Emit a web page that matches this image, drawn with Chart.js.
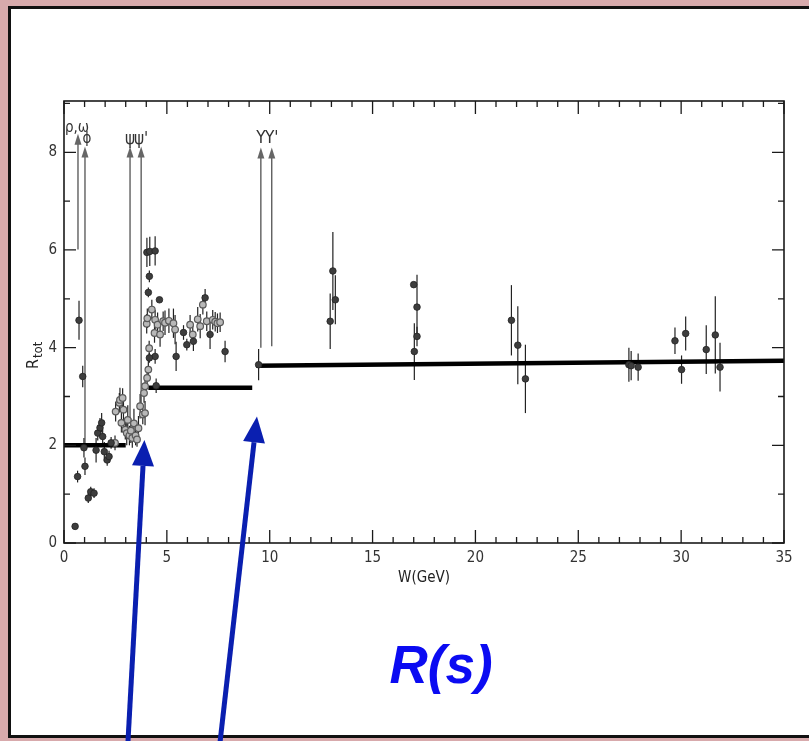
<!DOCTYPE html>
<html>
<head>
<meta charset="utf-8">
<script src="https://cdn.jsdelivr.net/npm/chart.js@4.4.1/dist/chart.umd.min.js"></script>
<style>
html,body{margin:0;padding:0;width:809px;height:741px;overflow:hidden;background:#d8aaac;}
#marco{position:absolute;left:8px;top:6px;width:840px;height:726px;border:3px solid #111;background:#fff;}
#grafico{position:absolute;left:0;top:0;}
</style>
</head>
<body>
<div id="marco"></div>
<canvas id="grafico" width="809" height="741"></canvas>
<script>

// ================================
// DATOS (W en GeV, R_tot, error)
// ================================

// puntos oscuros
const oscW = [0.54,0.66,0.73,0.91,0.97,1.02,1.18,1.30,1.46,1.56,1.64,1.75,1.83,1.88,1.96,2.10,2.19,2.29,
    4.03,4.17,4.43,4.15,4.10,4.64,4.43,4.15,5.45,4.48,5.81,5.97,6.29,6.86,7.10,7.83,
    9.46,12.94,13.07,13.19,17.00,17.16,17.16,17.03,21.75,22.06,22.43,
    27.46,27.57,27.91,29.70,30.02,30.22,31.22,31.66,31.89];
const oscR = [0.34,1.36,4.56,3.41,1.95,1.57,0.92,1.05,1.02,1.90,2.25,2.36,2.46,2.18,1.87,1.70,1.77,2.05,
    5.95,5.97,5.98,5.46,5.13,4.98,3.82,3.79,3.82,3.22,4.31,4.06,4.13,5.02,4.27,3.92,
    3.65,4.54,5.57,4.98,5.29,4.83,4.23,3.92,4.56,4.05,3.36,
    3.65,3.63,3.60,4.14,3.55,4.29,3.96,4.26,3.60];
const oscE = [0.04,0.12,0.40,0.22,0.20,0.18,0.10,0.10,0.10,0.25,0.15,0.20,0.20,0.15,0.20,0.12,0.12,0.12,
    0.30,0.30,0.30,0.12,0.10,0.05,0.15,0.10,0.30,0.15,0.15,0.12,0.20,0.18,0.30,0.22,
    0.32,0.57,0.80,0.50,0.05,0.66,0.20,0.58,0.72,0.80,0.70,
    0.35,0.30,0.28,0.27,0.29,0.35,0.50,0.79,0.50];

// puntos claros (zona densa)
const clarW = [2.48,2.51,2.69,2.72,2.79,2.85,2.89,2.98,3.05,3.10,3.18,3.25,3.32,3.40,3.48,3.55,3.62,3.70,
    3.83,3.89,3.94,3.94,4.04,4.10,4.14,4.02,4.05,4.27,4.43,4.55,4.40,4.67,4.82,4.91,5.10,5.32,5.40,
    6.13,6.26,6.50,6.62,6.75,6.94,7.23,7.35,7.46,7.59];
const clarR = [2.05,2.69,2.87,2.93,2.46,2.97,2.73,2.32,2.25,2.52,2.20,2.30,2.15,2.45,2.20,2.12,2.35,2.80,
    2.63,3.07,2.66,3.21,3.38,3.55,3.99,4.49,4.60,4.78,4.57,4.47,4.30,4.27,4.54,4.51,4.55,4.50,4.37,
    4.47,4.27,4.58,4.44,4.88,4.54,4.57,4.53,4.50,4.52];
const clarE = [0.15,0.20,0.20,0.25,0.20,0.20,0.30,0.20,0.25,0.30,0.20,0.25,0.20,0.30,0.20,0.15,0.25,0.25,
    0.20,0.20,0.25,0.20,0.20,0.20,0.15,0.20,0.20,0.20,0.20,0.25,0.20,0.25,0.20,0.25,0.25,0.30,0.30,
    0.20,0.20,0.25,0.25,0.20,0.20,0.20,0.20,0.20,0.20];

// niveles teóricos (tramos)
const tramoIni = [0.0, 4.1, 9.35];
const tramoFin = [3.0, 9.15, 35.0];
const tramoRIni = [2.0, 3.18, 3.63];
const tramoRFin = [2.0, 3.18, 3.73];

// resonancias
const resNombre = ["ρ,ω", "ϕ", "ψ", "ψ'", "Υ", "Υ'"];
const resW = [0.68, 1.02, 3.21, 3.75, 9.57, 10.1];
const resBajo = [6.01, 2.05, 2.55, 2.8, 4.0, 4.03];
const resAlto = [8.38, 8.12, 8.12, 8.12, 8.1, 8.1];
const resEtiquetaR = [8.42, 8.2, 8.17, 8.17, 8.2, 8.2];

// flechas azules (en unidades de datos)
const azulDesdeW = [3.11, 7.59];
const azulDesdeR = [-4.06, -4.06];
const azulHastaW = [3.91, 9.38];
const azulHastaR = [2.11, 2.59];

const fuente = "'Liberation Sans Narrow','DejaVu Sans Condensed','Liberation Sans',sans-serif";

// ================================
// PLUGIN: marco, marcas, barras de error, anotaciones
// ================================

const decoracion = {
    id: "decoracion",

    beforeDatasetsDraw(chart){
        const ctx = chart.ctx;
        const x = chart.scales.x, y = chart.scales.y;
        ctx.save();
        ctx.strokeStyle = "#222";
        ctx.lineWidth = 1.2;
        function barras(ws, rs, es){
            for(let i=0;i<ws.length;i++){
                const px = x.getPixelForValue(ws[i]);
                ctx.beginPath();
                ctx.moveTo(px, y.getPixelForValue(rs[i]-es[i]));
                ctx.lineTo(px, y.getPixelForValue(rs[i]+es[i]));
                ctx.stroke();
            }
        }
        barras(oscW, oscR, oscE);
        barras(clarW, clarR, clarE);
        ctx.restore();
    },

    afterDraw(chart){
        const ctx = chart.ctx;
        const x = chart.scales.x, y = chart.scales.y;
        const a = chart.chartArea;

        ctx.save();

        // marco
        ctx.strokeStyle = "#1a1a1a";
        ctx.lineWidth = 1.6;
        ctx.strokeRect(a.left, a.top, a.right-a.left, a.bottom-a.top);

        // marcas hacia dentro
        ctx.lineWidth = 1.3;
        ctx.beginPath();
        for(let v=0; v<=35; v++){
            const px = x.getPixelForValue(v);
            const l = (v%5===0) ? 13 : 6;
            ctx.moveTo(px, a.bottom); ctx.lineTo(px, a.bottom-l);
            ctx.moveTo(px, a.top); ctx.lineTo(px, a.top+l);
        }
        for(let v=0; v<=9; v++){
            const py = y.getPixelForValue(v);
            const l = (v%2===0) ? 12 : 6;
            ctx.moveTo(a.left, py); ctx.lineTo(a.left+l, py);
            ctx.moveTo(a.right, py); ctx.lineTo(a.right-l, py);
        }
        ctx.stroke();

        // puntas de flecha de resonancias y etiquetas
        ctx.fillStyle = "#666";
        for(let i=0;i<resW.length;i++){
            const px = x.getPixelForValue(resW[i]);
            const py = y.getPixelForValue(resAlto[i]);
            ctx.beginPath();
            ctx.moveTo(px, py);
            ctx.lineTo(px-3.5, py+11);
            ctx.lineTo(px+3.5, py+11);
            ctx.closePath();
            ctx.fill();
        }
        ctx.fillStyle = "#333";
        ctx.textAlign = "center";
        ctx.textBaseline = "alphabetic";
        for(let i=0;i<resW.length;i++){
            let px = x.getPixelForValue(resW[i]);
            ctx.font = (i<2 ? "15px " : "17px ") + fuente;
            if(i===0) px -= 1;
            if(i===1) px += 2;
            ctx.fillText(resNombre[i], px, y.getPixelForValue(resEtiquetaR[i]));
        }

        // titulo eje y: R_tot
        ctx.save();
        ctx.translate(38, 369);
        ctx.rotate(-Math.PI/2);
        ctx.fillStyle = "#222";
        ctx.textAlign = "left";
        ctx.font = "16px " + fuente;
        ctx.fillText("R", 0, 0);
        const w = ctx.measureText("R").width;
        ctx.font = "13px " + fuente;
        ctx.fillText("tot", w+1, 4);
        ctx.restore();

        // flechas azules
        ctx.strokeStyle = "#0a1fb0";
        ctx.fillStyle = "#0a1fb0";
        ctx.lineWidth = 5;
        for(let i=0;i<azulDesdeW.length;i++){
            const x0 = x.getPixelForValue(azulDesdeW[i]);
            const y0 = y.getPixelForValue(azulDesdeR[i]);
            const x1 = x.getPixelForValue(azulHastaW[i]);
            const y1 = y.getPixelForValue(azulHastaR[i]);
            const ang = Math.atan2(y1-y0, x1-x0);
            const largo = 26, ancho = 11;
            const bx = x1 - largo*Math.cos(ang);
            const by = y1 - largo*Math.sin(ang);
            ctx.beginPath();
            ctx.moveTo(x0, y0);
            ctx.lineTo(bx, by);
            ctx.stroke();
            ctx.beginPath();
            ctx.moveTo(x1, y1);
            ctx.lineTo(bx + ancho*Math.sin(ang), by - ancho*Math.cos(ang));
            ctx.lineTo(bx - ancho*Math.sin(ang), by + ancho*Math.cos(ang));
            ctx.closePath();
            ctx.fill();
        }

        // texto R(s)
        ctx.fillStyle = "#0b0bf2";
        ctx.font = "italic bold 53px 'Liberation Sans', Arial, sans-serif";
        ctx.textAlign = "center";
        ctx.textBaseline = "alphabetic";
        ctx.fillText("R(s)", 441, 683);

        ctx.restore();
    }
};

// ================================
// GRAFICO
// ================================

const conjuntos = [];

conjuntos.push({
    label: "puntos",
    data: oscW.map((w,i)=>({x:w, y:oscR[i]})),
    pointRadius: 3.3,
    pointBackgroundColor: "#3d3d3d",
    pointBorderColor: "#222",
    pointBorderWidth: 0.8,
    order: 0
});

conjuntos.push({
    label: "puntos claros",
    data: clarW.map((w,i)=>({x:w, y:clarR[i]})),
    pointRadius: 3.3,
    pointBackgroundColor: "#b8b8b8",
    pointBorderColor: "#5a5a5a",
    pointBorderWidth: 1.2,
    order: 1
});

for(let i=0;i<tramoIni.length;i++){
    conjuntos.push({
        type: "line",
        label: "nivel " + (i+1),
        data: [{x:tramoIni[i], y:tramoRIni[i]}, {x:tramoFin[i], y:tramoRFin[i]}],
        borderColor: "#000",
        borderWidth: 4.5,
        pointRadius: 0,
        order: 2
    });
}

for(let i=0;i<resW.length;i++){
    conjuntos.push({
        type: "line",
        label: resNombre[i],
        data: [{x:resW[i], y:resBajo[i]}, {x:resW[i], y:resAlto[i]-0.2}],
        borderColor: "#444",
        borderWidth: 1.2,
        pointRadius: 0,
        order: 3
    });
}

const grafico = new Chart(document.getElementById("grafico"), {
    type: "scatter",
    data: { datasets: conjuntos },
    options: {
        responsive: false,
        animation: false,
        layout: { padding: { left: 0, top: 101, right: 25, bottom: 153 } },
        plugins: { legend: { display: false }, tooltip: { enabled: false } },
        scales: {
            x: {
                type: "linear",
                min: 0, max: 35,
                grid: { display: false, drawTicks: false },
                border: { display: false },
                ticks: { stepSize: 5, padding: 6, color: "#333", font: { family: fuente, size: 15 } },
                title: { display: true, text: "W(GeV)", color: "#222", font: { family: fuente, size: 15 }, padding: { top: 0, bottom: 1 } },
                afterFit(s){ s.height = 45; }
            },
            y: {
                type: "linear",
                min: 0, max: 9.05,
                grid: { display: false, drawTicks: false },
                border: { display: false },
                ticks: { stepSize: 2, includeBounds: false, padding: 7, color: "#333", font: { family: fuente, size: 15 } },
                afterFit(s){ s.width = 64; }
            }
        }
    },
    plugins: [decoracion]
});

</script>
</body>
</html>
